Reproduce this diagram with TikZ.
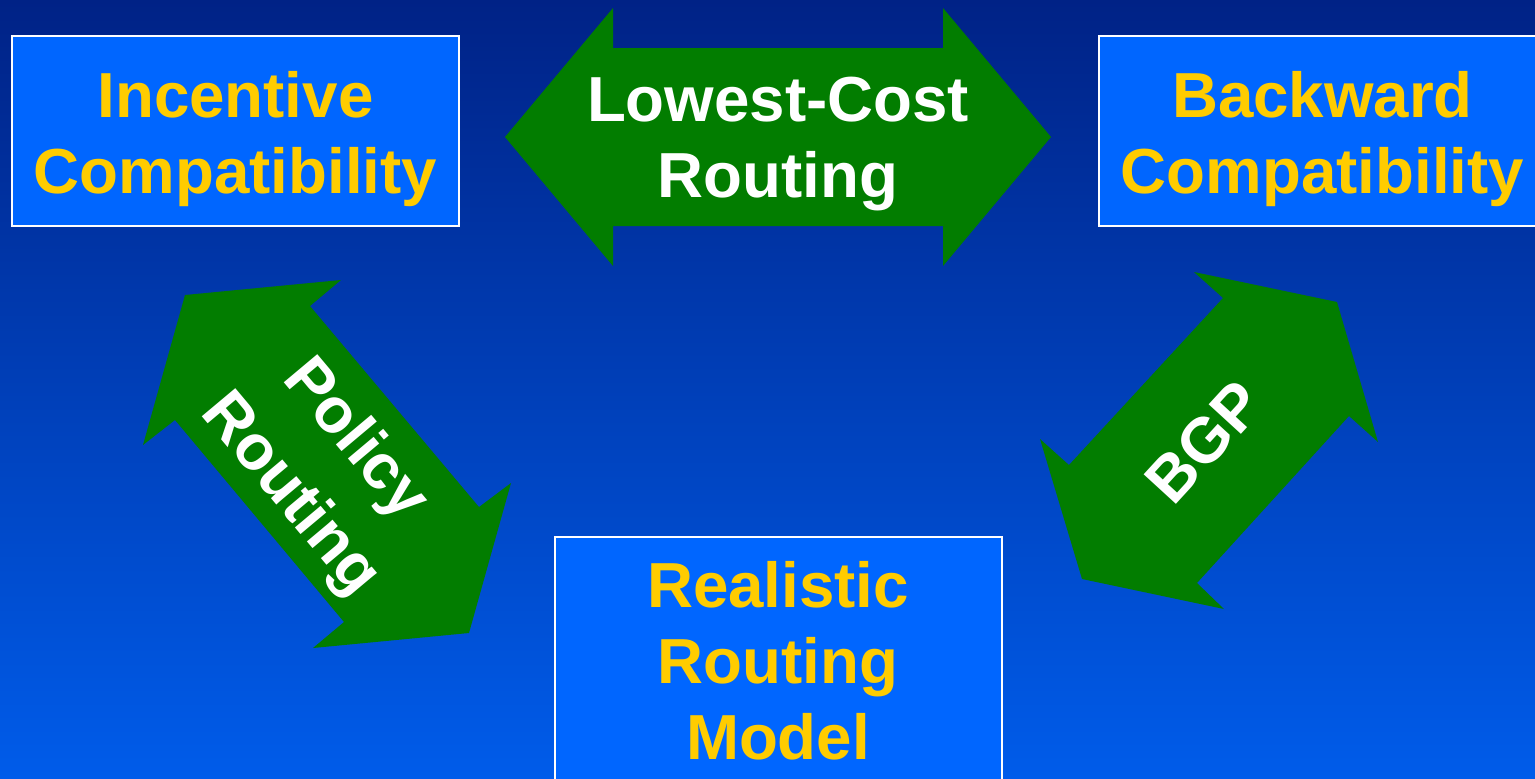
\documentclass[tikz,border=0pt]{standalone}
\usepackage{fontspec}
\setmainfont{Liberation Sans}
\usetikzlibrary{positioning}
\definecolor{navytop}{RGB}{0,34,134}
\definecolor{navymid}{RGB}{0,70,198}
\definecolor{navybot}{RGB}{0,92,234}
\definecolor{boxblue}{RGB}{0,102,255}
\definecolor{linkgreen}{RGB}{2,125,0}
\definecolor{gold}{RGB}{255,204,0}
\tikzset{
	goal/.style={draw=white,line width=0.6pt,fill=boxblue,minimum width=4.47cm,inner sep=0pt},
	goaltext/.style={text=gold,font=\bfseries\fontsize{18.1}{21.6}\selectfont,align=center,inner sep=0pt},
	link/.style={fill=linkgreen},
	linktext/.style={text=white,font=\bfseries\fontsize{18.1}{21.6}\selectfont,align=center,inner sep=0pt}
}

\begin{document}
\begin{tikzpicture}[x=0.01cm,y=-0.01cm]
		\useasboundingbox (0,0) rectangle (1535,778);
		\clip (0,0) rectangle (1535,778);
		\shade[top color=navytop,middle color=navymid,bottom color=navybot] (0,0) rectangle (1535,778);
		\foreach \n/\x/\y/\h in{inc/235.5/131/190,bwd/1322.5/131/190,real/778.5/680/286}
		\node[goal,minimum height=\h*0.01cm] (\n) at (\x,\y) {};
		\node[goaltext] (inctext) at (inc.center) [yshift=-0.08cm] {Incentive\\Compatibility};
		\node[goaltext] (bwdtext) at (bwd.center) [yshift=-0.08cm] {Backward\\Compatibility};
		\node[goaltext] (realtext) at (778,661) {Realistic\\Routing\\Model};
		\fill[link](505,137)--(613,8)--(613,48)--(943,48)--(943,8)--(1051,137)
			--(943,266)--(943,226)--(613,226)--(613,266)--cycle;
		\fill[link](185,295)--(341,280)--(310,306)--(479,507)--(511,483)--(469,633)
			--(313,648)--(344,622)--(175,420)--(143,445)--cycle;
		\fill[link](1194,272)--(1337,302)--(1378,442)--(1349,416)--(1197,583)--(1224,609)
			--(1082,579)--(1040,439)--(1069,465)--(1223,298)--cycle;
		\node[linktext] (lowcost) at (778,144) {Lowest-Cost\\Routing};
		\node[linktext,rotate=-50] (policy) at (322,468) {Policy\\[2.5pt]Routing};
		\node[linktext,rotate=47.5] (bgp) at (1204,442) {BGP};
	\end{tikzpicture}
\end{document}
